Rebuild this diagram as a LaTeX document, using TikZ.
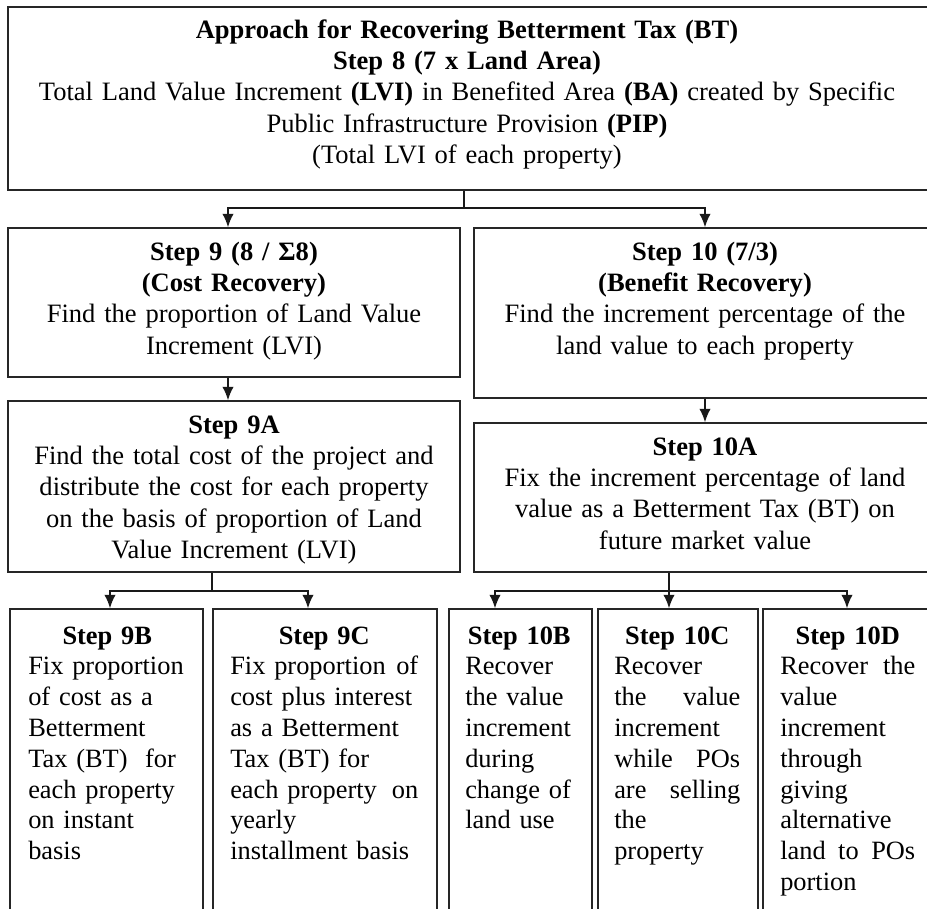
\documentclass[tikz,border=0pt]{standalone}
\usepackage{fontspec}
\setmainfont{Liberation Serif}
\usetikzlibrary{arrows.meta,fit}

% one line of a text block: centred, flush left, or stretched to full width
\newcommand\clin[1]{\hbox to\linewidth{\hss#1\hss}}
\newcommand\llin[1]{\hbox to\linewidth{#1\hss}}
\newcommand\jlin[1]{\hbox to\linewidth{#1}}

\begin{document}
\begin{tikzpicture}[x=0.75pt,y=-0.75pt,
  box/.style={draw=black!85, line width=1.2pt, inner sep=0pt},
  mainfont/.style={font=\fontsize{19.9pt}{23.6pt}\selectfont},
  smallfont/.style={font=\fontsize{19.8pt}{23.1pt}\selectfont},
  ctext/.style={mainfont, anchor=base, inner sep=0pt, text width=#1},
  ltext/.style={smallfont, anchor=base west, inner sep=0pt, text width=#1},
  ln/.style={line width=1.1pt, black!90},
  arr/.style={ln, -{Latex[length=10pt,width=8.5pt]}}]
\useasboundingbox (0,0) rectangle (927,908);

% boxes
\node[box, line width=1.5pt, fit={(8,7) (934,190)}] (top) {};
\node[box, fit={(8,228) (460,377)}] (s9) {};
\node[box, fit={(474,228) (934,398)}] (s10) {};
\node[box, fit={(8,401) (460,572)}] (s9a) {};
\node[box, fit={(474,423) (934,572)}] (s10a) {};
\node[box, fit={(10,609) (203,920)}] (s9b) {};
\node[box, fit={(213,609) (437,920)}] (s9c) {};
\node[box, fit={(449,609) (592,920)}] (s10b) {};
\node[box, fit={(598,609) (758,920)}] (s10c) {};
\node[box, fit={(763,609) (934,920)}] (s10d) {};

% texts
\node[ctext=675pt] (t8) at (467,38) {%
  \clin{\textbf{Approach for Recovering Betterment Tax (BT)}}
  \clin{\textbf{Step 8 (7 x Land Area)}}
  \clin{Total Land Value Increment \textbf{(LVI)} in Benefited Area \textbf{(BA)} created by Specific}
  \clin{Public Infrastructure Provision \textbf{(PIP)}}
  \clin{(Total LVI of each property)}};

\node[ctext=320pt] (t9) at (234,260) {%
  \clin{\textbf{Step 9 (8 / Σ8)}}
  \clin{\textbf{(Cost Recovery)}}
  \clin{Find the proportion of Land Value}
  \clin{Increment (LVI)}};

\node[ctext=320pt] (t10) at (705,260) {%
  \clin{\textbf{Step 10 (7/3)}}
  \clin{\textbf{(Benefit Recovery)}}
  \clin{Find the increment percentage of the}
  \clin{land value to each property}};

\node[ctext=320pt] (t9a) at (234,433) {%
  \clin{\textbf{Step 9A}}
  \clin{Find the total cost of the project and}
  \clin{distribute the cost for each property}
  \clin{on the basis of proportion of Land}
  \clin{Value Increment (LVI)}};

\node[ctext=320pt] (t10a) at (705,455) {%
  \clin{\textbf{Step 10A}}
  \clin{Fix the increment percentage of land}
  \clin{value as a Betterment Tax (BT) on}
  \clin{future market value}};

\node[ltext=118.5pt] (t9b) at (28,644) {%
  \clin{\textbf{Step 9B}}
  \llin{Fix proportion}
  \llin{of cost as a}
  \llin{Betterment}
  \llin{Tax (BT) \ for}
  \llin{each property}
  \llin{on instant}
  \llin{basis}};

\node[ltext=141pt] (t9c) at (230,644) {%
  \clin{\textbf{Step 9C}}
  \jlin{Fix proportion\hfill of}
  \llin{cost plus interest}
  \llin{as a Betterment}
  \llin{Tax (BT) for}
  \jlin{each property\hfill on}
  \llin{yearly}
  \llin{installment basis}};

\node[ltext=81pt] (t10b) at (465,644) {%
  \clin{\textbf{Step 10B}}
  \llin{Recover}
  \llin{the value}
  \llin{increment}
  \llin{during}
  \llin{change of}
  \llin{land use}};

\node[ltext=94.5pt] (t10c) at (614,644) {%
  \clin{\textbf{Step 10C}}
  \llin{Recover}
  \jlin{the\hfill value}
  \llin{increment}
  \jlin{while\hfill POs}
  \jlin{are\hfill selling}
  \llin{the}
  \llin{property}};

\node[ltext=101.25pt] (t10d) at (780,644) {%
  \clin{\textbf{Step 10D}}
  \jlin{Recover\hfill the}
  \llin{value}
  \llin{increment}
  \llin{through}
  \llin{giving}
  \llin{alternative}
  \jlin{land\hfill to\hfill POs}
  \llin{portion}};

% branch points and arrow columns
\coordinate (j8) at (464,208);
\coordinate (a9) at (228,0);
\coordinate (a10) at (705,0);
\coordinate (j9) at (212,591);
\coordinate (a9b) at (110,0);
\coordinate (a9c) at (308,0);
\coordinate (j10) at (669,591);
\coordinate (a10b) at (495,0);
\coordinate (a10d) at (847,0);

% connectors
\draw[ln] (top.south -| j8) -- (j8);
\draw[arr] (j8) -| (s9.north -| a9);
\draw[arr] (j8) -| (s10.north -| a10);

\draw[arr] (s9.south -| a9) -- (s9a.north -| a9);
\draw[arr] (s10.south -| a10) -- (s10a.north -| a10);

\draw[ln] (s9a.south -| j9) -- (j9);
\draw[arr] (j9) -| (s9b.north -| a9b);
\draw[arr] (j9) -| (s9c.north -| a9c);

\draw[ln] (s10a.south -| j10) -- (j10);
\draw[arr] (j10) -| (s10b.north -| a10b);
\draw[arr] (j10) -- (s10c.north -| j10);
\draw[arr] (j10) -| (s10d.north -| a10d);
\end{tikzpicture}
\end{document}
